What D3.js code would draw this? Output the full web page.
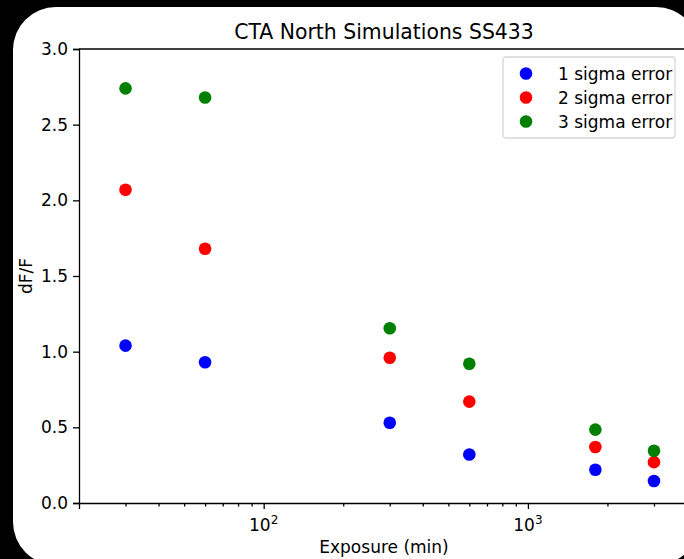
<!DOCTYPE html>
<html>
<head>
<meta charset="utf-8">
<script src="https://cdn.jsdelivr.net/npm/d3@7"></script>
<style>
  html, body { margin: 0; padding: 0; background: #000; }
  svg { display: block; }
  text { font-family: "DejaVu Sans", sans-serif; fill: #000; }
</style>
</head>
<body>
<div id="chart"></div>
<script>
// exposure time in minutes
var exposure = [30, 60, 300, 600, 1800, 3000];
// dF/F for each confidence level
var sigma1 = [1.04, 0.93, 0.53, 0.32, 0.22, 0.145];
var sigma2 = [2.07, 1.68, 0.96, 0.67, 0.37, 0.27];
var sigma3 = [2.74, 2.68, 1.155, 0.92, 0.485, 0.345];
var seriesNames = ['1 sigma error', '2 sigma error', '3 sigma error'];
var seriesColors = ['#0000ff', '#ff0000', '#008000'];
var yTicks = [0, 0.5, 1.0, 1.5, 2.0, 2.5, 3.0];
var xMajor = [100, 1000];
var xMinor = [30, 40, 50, 60, 70, 80, 90, 200, 300, 400, 500, 600, 700, 800, 900, 2000, 3000];

var W = 684, H = 559;
var pLeft = 79, pTop = 49, pBottom = 503, pRight = 687;
var fs = '17px';

var svg = d3.select('#chart').append('svg')
    .attr('width', W).attr('height', H);

// white rounded card on black
svg.append('rect')
    .attr('x', 13).attr('y', 7)
    .attr('width', 686).attr('height', 558)
    .attr('rx', 43).attr('ry', 43)
    .style('fill', '#fff');

var x = d3.scaleLog().domain([20, 4000]).range([pLeft, pRight]);
var y = d3.scaleLinear().domain([0, 3]).range([pBottom, pTop]);

var g = svg.append('g');

// top spine
g.append('line').attr('x1', pLeft).attr('x2', pRight).attr('y1', pTop).attr('y2', pTop)
    .style('stroke', '#000').style('stroke-width', 1.3);

// y axis
var yAxis = g.append('g')
    .attr('transform', 'translate(' + pLeft + ',0)')
    .call(d3.axisLeft(y).tickValues(yTicks).tickFormat(d3.format('.1f')).tickSize(6).tickPadding(5));

// x axis, major
g.append('g')
    .attr('transform', 'translate(0,' + pBottom + ')')
    .call(d3.axisBottom(x).tickValues(xMajor).tickFormat('').tickSize(6));
// x axis, minor
g.append('g')
    .attr('transform', 'translate(0,' + pBottom + ')')
    .call(d3.axisBottom(x).tickValues(xMinor).tickFormat('').tickSize(3.5))
    .select('.domain').remove();

g.selectAll('.domain').style('stroke', '#000').style('stroke-width', 1.3);
g.selectAll('.tick line').style('stroke', '#000').style('stroke-width', 1.3);
yAxis.selectAll('text').style('font-size', fs).style('font-family', 'DejaVu Sans').style('fill', '#000');

// 10^n labels
var lab = g.selectAll('.xlab').data(xMajor).enter().append('text')
    .attr('x', function(d) { return x(d); })
    .attr('y', pBottom + 28)
    .style('text-anchor', 'middle')
    .style('font-size', fs);
lab.append('tspan').text('10');
lab.append('tspan').attr('dy', -7.5).style('font-size', '12px')
    .text(function(d) { return Math.round(Math.log10(d)); });

// points
var series = [sigma1, sigma2, sigma3];
series.forEach(function(vals, i) {
    g.selectAll('.pt' + i).data(vals).enter().append('circle')
        .attr('cx', function(d, j) { return x(exposure[j]); })
        .attr('cy', function(d) { return y(d); })
        .attr('r', 6.3)
        .style('fill', seriesColors[i]);
});

// title and labels
svg.append('text').attr('x', 384).attr('y', 39)
    .style('text-anchor', 'middle').style('font-size', '20.4px')
    .text('CTA North Simulations SS433');
svg.append('text').attr('x', 384).attr('y', 553)
    .style('text-anchor', 'middle').style('font-size', fs)
    .text('Exposure (min)');
svg.append('text')
    .attr('transform', 'translate(32,' + ((pTop + pBottom) / 2) + ') rotate(-90)')
    .style('text-anchor', 'middle').style('font-size', fs)
    .text('dF/F');

// legend
var leg = svg.append('g').attr('transform', 'translate(503,57)');
leg.append('rect').attr('width', 172).attr('height', 81).attr('rx', 3)
    .style('fill', '#fff').style('stroke', '#d6d6d6').style('stroke-width', 1.3);
seriesNames.forEach(function(name, i) {
    var row = leg.append('g').attr('transform', 'translate(0,' + (16.5 + i * 24) + ')');
    row.append('circle').attr('cx', 23).attr('cy', 0).attr('r', 6.3).style('fill', seriesColors[i]);
    row.append('text').attr('x', 55).attr('y', 6).style('font-size', fs).text(name);
});
</script>
</body>
</html>
